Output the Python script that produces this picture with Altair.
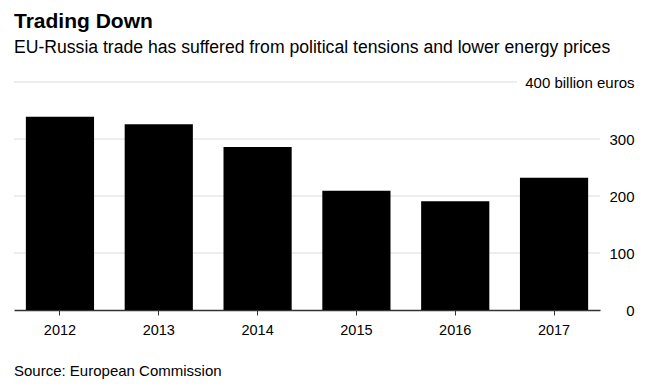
import altair as alt
import pandas as pd

years = ["2012", "2013", "2014", "2015", "2016", "2017"]
trade = [339, 326, 286, 209, 191, 232]
grid_main = [100, 200, 300]
grid_top = [400]
y_ticks = [0, 100, 200, 300, 400]

W, H = 586, 228
FONT = "Liberation Sans"

bars_df = pd.DataFrame({"year": years, "value": trade})
grid_df = pd.DataFrame({"value": grid_main})
top_df = pd.DataFrame({"value": grid_top})

yscale = alt.Scale(domain=[0, 400])
yaxis = alt.Axis(
    title=None,
    orient="right",
    values=y_ticks,
    grid=False,
    domain=False,
    ticks=False,
    labelAlign="right",
    labelPadding=34,
    labelFontSize=15,
    labelColor="#000000",
    labelExpr="datum.value == 400 ? '400 billion euros' : datum.label",
)

grid = alt.Chart(grid_df).mark_rule(color="#dcdcdc", strokeWidth=1).encode(
    y=alt.Y("value:Q", scale=yscale, axis=yaxis),
    x=alt.value(0),
    x2=alt.value(W),
)
grid_t = alt.Chart(top_df).mark_rule(color="#dcdcdc", strokeWidth=1).encode(
    y=alt.Y("value:Q", scale=yscale, axis=yaxis),
    x=alt.value(0),
    x2=alt.value(503),
)

bars = alt.Chart(bars_df).mark_bar(color="#000000").encode(
    x=alt.X(
        "year:N",
        sort=years,
        scale=alt.Scale(paddingInner=0.31, paddingOuter=0.12),
        axis=alt.Axis(
            title=None,
            labelAngle=0,
            labelFontSize=14.5,
            labelColor="#000000",
            labelPadding=8,
            tickSize=5,
            tickColor="#333333",
            domainColor="#333333",
            domainWidth=1.5,
            grid=False,
        ),
    ),
    y=alt.Y("value:Q", scale=yscale, axis=yaxis),
)

source = alt.Chart(pd.DataFrame({"t": ["Source: European Commission"]})).mark_text(
    align="left", baseline="middle", fontSize=15, color="#000000", font=FONT
).encode(x=alt.value(0), y=alt.value(289), text="t:N")

chart = (
    alt.layer(grid, grid_t, bars, source)
    .properties(
        width=W,
        height=H,
        autosize=alt.AutoSizeParams(type="none"),
        padding={"left": 6, "top": 74, "right": 37, "bottom": 74},
        title=alt.TitleParams(
            text="Trading Down",
            subtitle="EU-Russia trade has suffered from political tensions and lower energy prices",
            anchor="start",
            frame="group",
            offset=18,
            fontSize=21,
            fontWeight="bold",
            font=FONT,
            color="#000000",
            subtitleFontSize=17.6,
            subtitleFont=FONT,
            subtitleColor="#000000",
            subtitlePadding=7,
        ),
    )
    .configure(font=FONT)
    .configure_view(stroke=None)
)

chart.save("out.html", embed_options={"renderer": "svg", "actions": False})
